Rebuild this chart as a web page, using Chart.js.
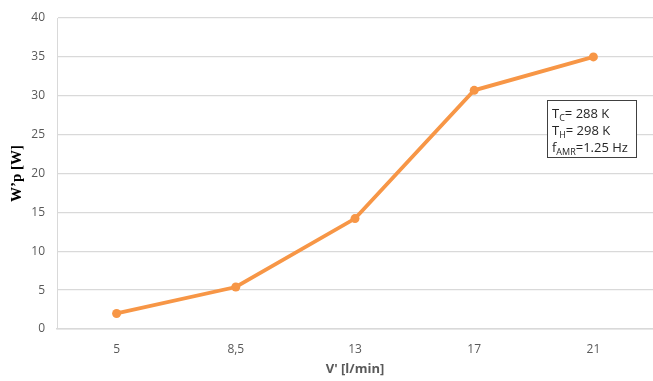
<!DOCTYPE html>
<html>
<head>
<meta charset="utf-8">
<script src="https://cdn.jsdelivr.net/npm/chart.js@4"></script>
<style>
  html, body { margin: 0; padding: 0; background: #fff; overflow: hidden; }
</style>
</head>
<body>
<canvas id="chart" width="653" height="381"></canvas>
<script>
// Data
const flowRates = ['5', '8,5', '13', '17', '21'];
const powerValues = [2.0, 5.4, 14.2, 30.7, 35.0];
const yTicks = [0, 5, 10, 15, 20, 25, 30, 35, 40];

const orange = '#F79646';
const tickColor = '#595959';

// Info box with subscripts (T_C, T_H, f_AMR)
const infoBox = {
  id: 'infoBox',
  afterDraw(chart){
    const ctx = chart.ctx;
    const x = 547, y = 100, w = 89, h = 57;
    ctx.save();
    ctx.fillStyle = '#fff';
    ctx.fillRect(x, y, w, h);
    ctx.strokeStyle = '#404040';
    ctx.lineWidth = 1;
    ctx.strokeRect(x + 0.5, y + 0.5, w, h);

    const lines = [
      ['T', 'C', '= 288 K'],
      ['T', 'H', '= 298 K'],
      ['f', 'AMR', '=1.25 Hz']
    ];
    ctx.fillStyle = '#262626';
    ctx.textBaseline = 'alphabetic';
    lines.forEach((l, i) => {
      let cx = x + 5;
      const by = y + 18 + i * 17;
      ctx.font = '13px "Open Sans", sans-serif';
      ctx.fillText(l[0], cx, by);
      cx += ctx.measureText(l[0]).width;
      ctx.font = '9px "Open Sans", sans-serif';
      ctx.fillText(l[1], cx, by + 3);
      cx += ctx.measureText(l[1]).width;
      ctx.font = '13px "Open Sans", sans-serif';
      ctx.fillText(l[2], cx, by);
    });
    ctx.restore();
  }
};

new Chart(document.getElementById('chart'), {
  type: 'line',
  data: {
    labels: flowRates,
    datasets: [{
      data: powerValues,
      borderColor: orange,
      backgroundColor: orange,
      borderWidth: 3.8,
      pointRadius: 4.5,
      pointBackgroundColor: orange,
      pointBorderWidth: 0,
      tension: 0,
      fill: false,
      clip: false
    }]
  },
  options: {
    responsive: false,
    animation: false,
    layout: { autoPadding: false, padding: { top: 18, right: 0, left: 0, bottom: 0 } },
    plugins: {
      legend: { display: false },
      tooltip: { enabled: false }
    },
    scales: {
      x: {
        offset: true,
        grid: { display: false, drawTicks: false },
        border: { color: '#d9d9d9', width: 1.5 },
        ticks: {
          color: tickColor,
          font: { family: 'Open Sans', size: 12 },
          padding: 13
        },
        title: {
          display: true,
          text: "V' [l/min]",
          color: tickColor,
          font: { family: 'Open Sans', size: 13, weight: 'bold' },
          padding: { top: 2 }
        },
        afterFit(scale){
          scale.height = 52;
          scale.paddingLeft = 0;
          scale.paddingRight = 0;
        }
      },
      y: {
        min: 0,
        max: 40,
        afterBuildTicks(scale){ scale.ticks = yTicks.map(v => ({ value: v })); },
        grid: { color: '#d9d9d9', lineWidth: 1.3, drawTicks: false },
        border: { display: true, color: '#d9d9d9', width: 1 },
        ticks: {
          color: tickColor,
          font: { family: 'Open Sans', size: 12 },
          padding: 12
        },
        title: {
          display: true,
          text: 'W\u2019p [W]',
          color: '#000',
          font: { family: 'Liberation Serif', size: 15, weight: 'bold' },
          padding: { top: 8, bottom: 4 }
        },
        afterFit(scale){
          scale.width = 57;
          scale.paddingTop = 0;
          scale.paddingBottom = 0;
        }
      }
    }
  },
  plugins: [infoBox]
});
</script>
</body>
</html>
